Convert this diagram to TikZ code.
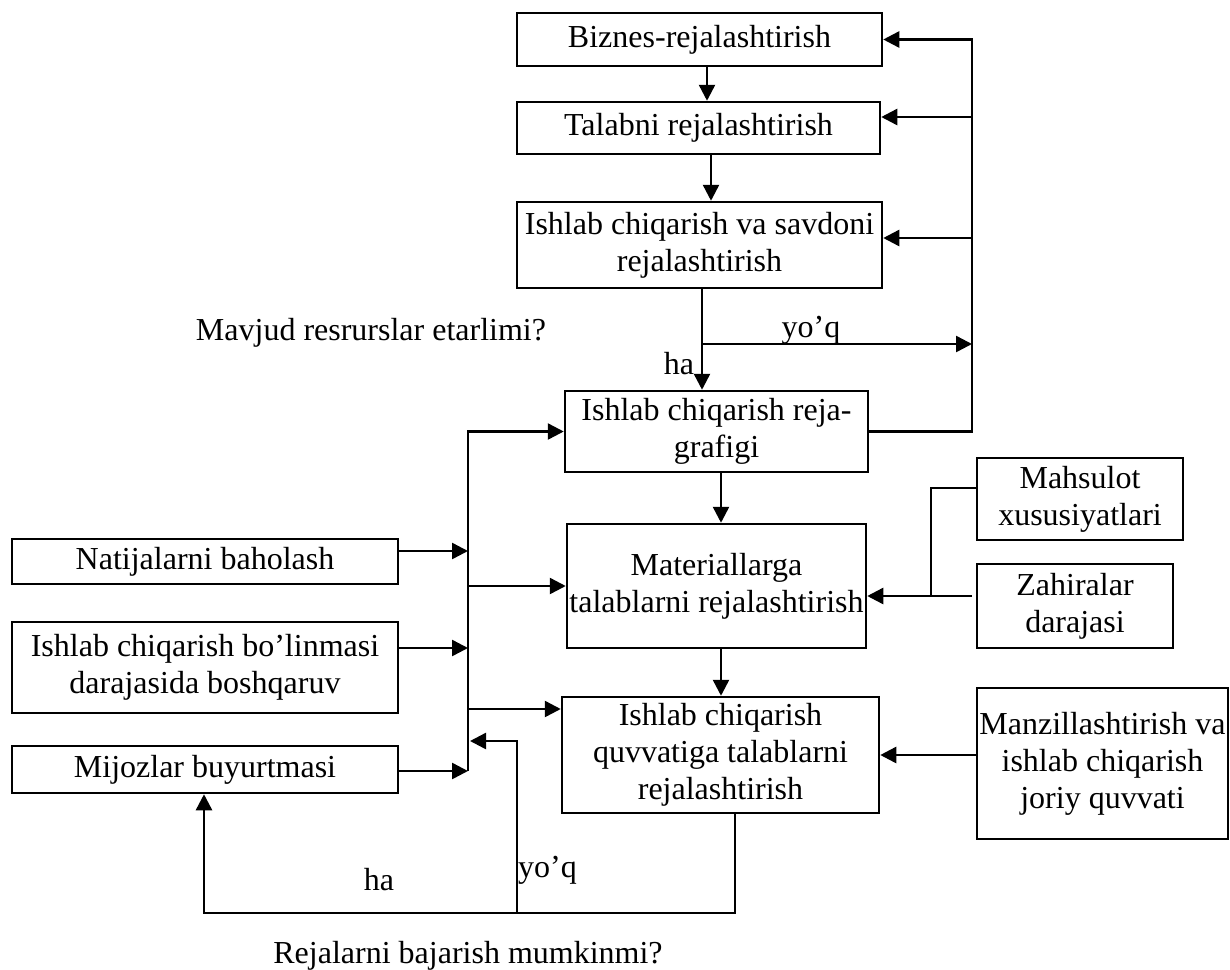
\documentclass[tikz,border=0pt]{standalone}
\usepackage{fontspec}
\setmainfont{Liberation Serif}
\usetikzlibrary{arrows.meta}
\begin{document}
\begin{tikzpicture}[x=1pt,y=-1pt,
  box/.style={draw,line width=2.5pt,rectangle,inner sep=0pt,align=center,font=\fontsize{32}{37}\selectfont},
  lbl/.style={inner sep=0pt,font=\fontsize{32}{37}\selectfont},
  ln/.style={line width=2.5pt},
  arr/.style={ln,-{Triangle[length=16pt,width=16pt]}}]
\useasboundingbox (0,0) rectangle (1230,969);
% main column
\node[box,minimum width=365pt,minimum height=53pt] (b1) at (699.5,39.5) {Biznes-rejalashtirish};
\node[box,minimum width=363pt,minimum height=52pt] (b2) at (698.5,128) {Talabni rejalashtirish};
\node[box,minimum width=365pt,minimum height=86pt] (b3) at (699.5,245) {Ishlab chiqarish va savdoni\\rejalashtirish};
\node[box,minimum width=303pt,minimum height=81pt] (b4) at (716.5,431.5) {Ishlab chiqarish reja-\\grafigi};
\node[box,minimum width=299pt,minimum height=124pt] (b5) at (716.5,586) {Materiallarga\\talablarni rejalashtirish};
\node[box,minimum width=317pt,minimum height=116pt] (b6) at (720.5,755) {Ishlab chiqarish\\quvvatiga talablarni\\rejalashtirish};
% left boxes
\node[box,minimum width=386pt,minimum height=45pt] (n1) at (205,561.5) {Natijalarni baholash};
\node[box,minimum width=386pt,minimum height=91pt] (n2) at (205,667.5) {Ishlab chiqarish bo’linmasi\\darajasida boshqaruv};
\node[box,minimum width=386pt,minimum height=47pt] (n3) at (205,769.5) {Mijozlar buyurtmasi};
% right boxes
\node[box,minimum width=206pt,minimum height=82pt] (m1) at (1080,499) {Mahsulot\\xususiyatlari};
\node[box,minimum width=196pt,minimum height=84pt] (m2) at (1075,606) {Zahiralar\\darajasi};
\node[box,minimum width=251pt,minimum height=151pt] (m3) at (1102.5,763.5) {Manzillashtirish va\\ishlab chiqarish\\joriy quvvati};
% labels
\node[lbl,anchor=base] (q1) at (371,340) {Mavjud resrurslar etarlimi?};
\node[lbl,anchor=base] (y1) at (811,337) {yo’q};
\node[lbl,anchor=base] (h1) at (679,374) {ha};
\node[lbl,anchor=base] (h2) at (379,890) {ha};
\node[lbl,anchor=base west] (y2) at (518,877) {yo’q};
\node[lbl,anchor=base] (q2) at (468,963) {Rejalarni bajarish mumkinmi?};
% coordinates
\coordinate (R) at (972,0);
\coordinate (L) at (468,0);
\coordinate (v1) at (707,0);
\coordinate (v2) at (711,0);
\coordinate (v3) at (721,0);
\coordinate (r2) at (972,117);
\coordinate (r3) at (972,238);
\coordinate (j1) at (702,344);
\coordinate (a1) at (468,551);
\coordinate (a2) at (468,648);
\coordinate (a3) at (468,771);
\coordinate (l6) at (468,709);
\coordinate (c1) at (931,488);
\coordinate (c2) at (931,596);
\coordinate (z1) at (972,596);
\coordinate (p1) at (735,913);
\coordinate (p2) at (204,913);
\coordinate (p3) at (517,913);
\coordinate (p4) at (517,741);
% main column arrows
\draw[arr] (b1.south -| v1) -- (b2.north -| v1);
\draw[arr] (b2.south -| v2) -- (b3.north -| v2);
\draw[arr] (b3.south -| j1) -- (b4.north -| j1);
\draw[arr] (j1) -- (j1 -| R);
\draw[arr] (b4.south -| v3) -- (b5.north -| v3);
\draw[arr] (b5.south -| v3) -- (b6.north -| v3);
% right feedback loop
\draw[arr] (b4.east) -| (b1.east -| R) -- (b1.east);
\draw[arr] (r2) -- (r2 -| b2.east);
\draw[arr] (r3) -- (r3 -| b3.east);
% left bus
\draw[arr] (a3) -- (L |- b4.west) -- (b4.west);
\draw[arr] (L |- b5.west) -- (b5.west);
\draw[arr] (l6) -- (l6 -| b6.west);
\draw[arr] (a1 -| n1.east) -- (a1);
\draw[arr] (a2 -| n2.east) -- (a2);
\draw[arr] (a3 -| n3.east) -- (a3);
% inputs from right
\draw[ln] (c1 -| m1.west) -- (c1) -- (c2);
\draw[arr] (z1) -- (z1 -| b5.east);
\draw[arr] (m3.west |- b6.east) -- (b6.east);
% bottom loop
\draw[arr] (b6.south -| p1) -- (p1) -- (p2) -- (p2 |- n3.south);
\draw[arr] (p3) -- (p4) -- ([xshift=2pt]p4 -| L);
\end{tikzpicture}
\end{document}
